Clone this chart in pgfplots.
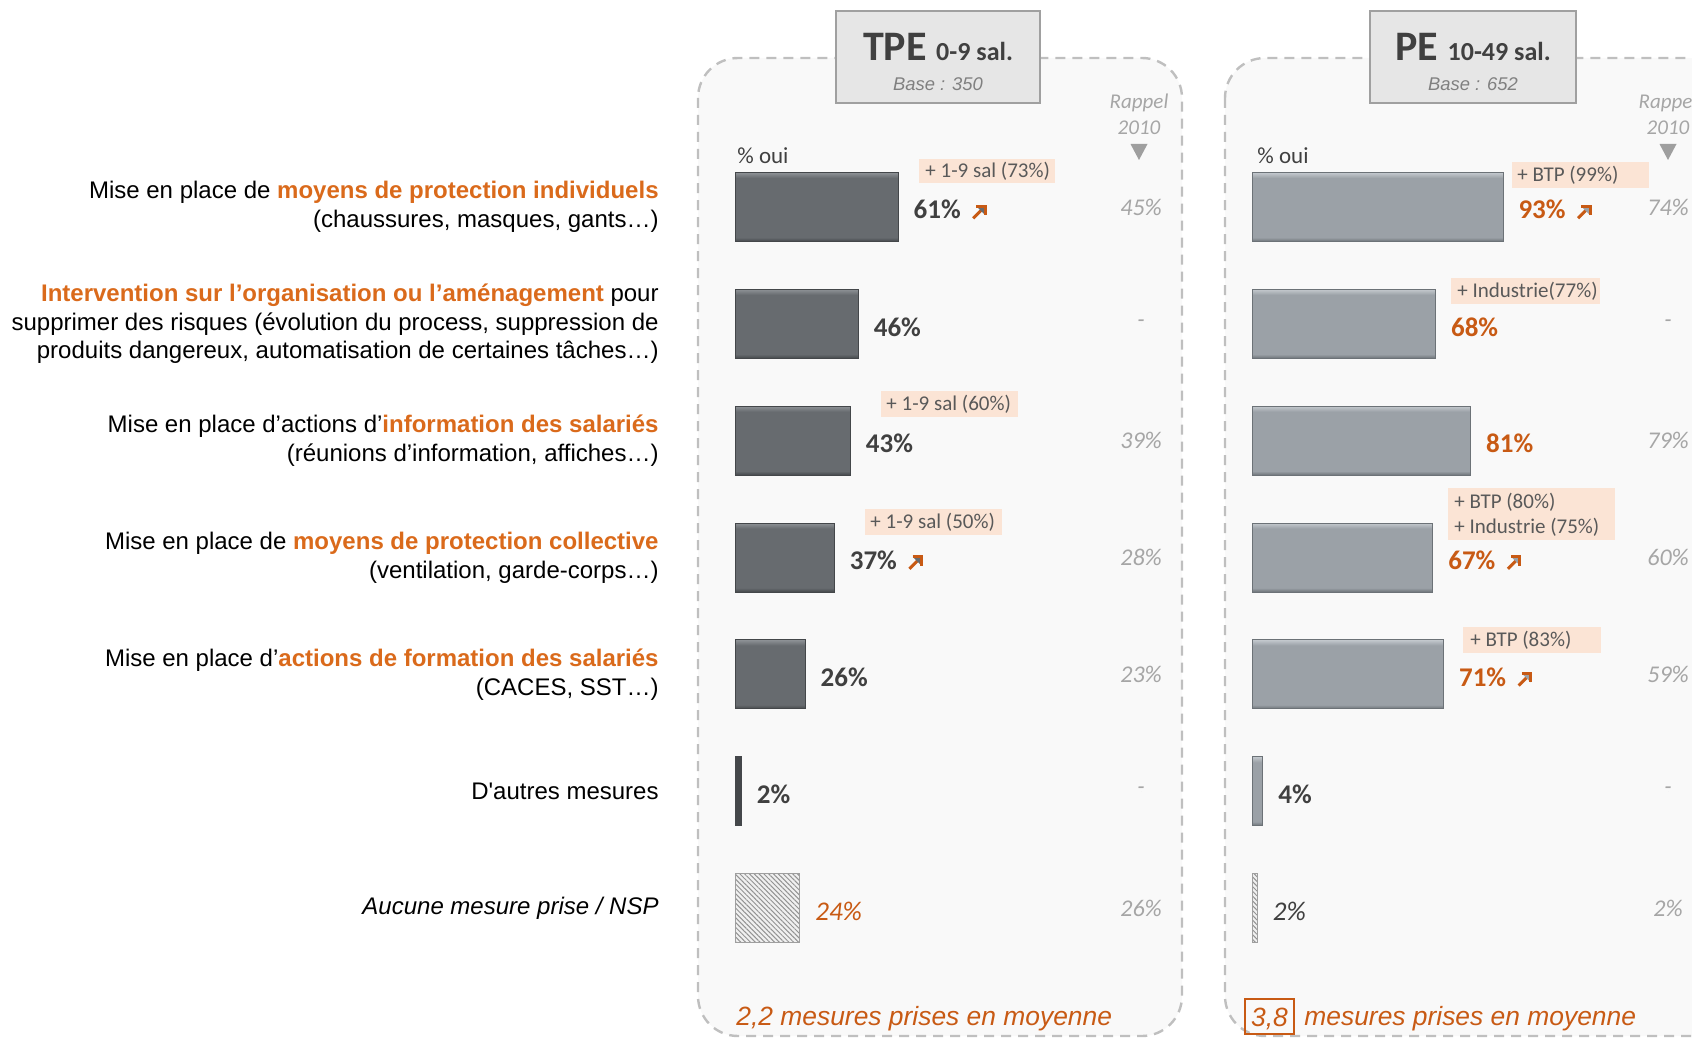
\documentclass[border=0pt]{standalone}
\usepackage{pgfplots}
\pgfplotsset{compat=1.18}
\usepackage{fontspec}
\setmainfont{Liberation Sans}
\newfontfamily\calib{Carlito}
\usetikzlibrary{patterns.meta}

\definecolor{lblorange}{HTML}{DA6A1B}
\definecolor{numorange}{HTML}{C85A14}
\definecolor{valdark}{HTML}{404040}
\definecolor{boxtext}{HTML}{595959}
\definecolor{hl}{HTML}{FBE4D5}
\definecolor{rappel}{HTML}{A6A6A6}
\definecolor{panelbg}{HTML}{F9F9F9}
\definecolor{panelline}{HTML}{BFBFBF}
\definecolor{titlefill}{HTML}{E6E6E6}
\definecolor{titleline}{HTML}{A0A0A0}
\definecolor{tpemain}{HTML}{676B6F}
\definecolor{tpelight}{HTML}{8E9296}
\definecolor{tpedark}{HTML}{44474A}
\definecolor{pemain}{HTML}{9BA1A7}
\definecolor{pelight}{HTML}{C4C9CE}
\definecolor{pedark}{HTML}{6C7277}

% bevel look of the bars (one bar per \addplot so that each gets its own shading)
\pgfdeclareverticalshading{bevtpe}{100bp}{color(0bp)=(tpedark); color(25bp)=(tpedark); color(28bp)=(tpemain); color(71bp)=(tpemain); color(75bp)=(tpelight); color(100bp)=(tpelight)}
\pgfdeclareverticalshading{bevpe}{100bp}{color(0bp)=(pedark); color(25bp)=(pedark); color(28bp)=(pemain); color(71bp)=(pemain); color(75bp)=(pelight); color(100bp)=(pelight)}

\newcommand{\fs}[2]{\fontsize{#1}{#2}\selectfont}
\newcommand{\uparr}{\tikz[baseline=0pt]{%
  \draw[numorange, line width=1.5pt] (0pt,0.3pt)--(6pt,6.3pt);
  \draw[numorange, line width=1.5pt, line join=miter] (1.6pt,6.3pt)--(6pt,6.3pt)--(6pt,1.9pt);}}

\pgfplotsset{
  panel/.style={scale only axis, anchor=north west, height=408.9pt,
    xmin=0, xmax=100, ymin=0.5, ymax=7.5, y dir=reverse,
    axis line style={draw=none}, major tick length=0pt, xtick=\empty,
    clip=false, /pgf/number format/assume math mode=true},
  bars/.style={xbar, bar width=34.5pt, bar shift=0pt, point meta=x},
  tpebar/.style={bars, shade, shading=bevtpe, shading angle=0, draw=tpedark, line width=0.5pt},
  pebar/.style={bars, shade, shading=bevpe, shading angle=0, draw=pedark, line width=0.5pt},
  hatchbar/.style={bars, fill=gray!12, draw=gray!75, line width=0.5pt,
    postaction={pattern={Lines[angle=-45,distance=1.7pt,line width=0.5pt]}, pattern color=gray!85}},
  vals/.style={nodes near coords={\pgfmathprintnumber{\pgfplotspointmeta}\%},
    nodes near coords style={anchor=west, inner sep=0pt, xshift=7.5pt, yshift=-1.5pt,
      text=valdark, font=\calib\bfseries\fs{13.5}{16}}},
  valsarr/.style={vals, nodes near coords={\pgfmathprintnumber{\pgfplotspointmeta}\%\hspace{5.5pt}\uparr}},
  orangeval/.style={nodes near coords style={text=numorange}},
  rappelcol/.style={only marks, mark=*, mark size=0pt, mark options={draw=none, fill=none},
    point meta=explicit symbolic, nodes near coords={\pgfplotspointmeta},
    nodes near coords style={anchor=center, inner sep=0pt, text=rappel, font=\calib\itshape\fs{12}{14}}},
}

\begin{document}
\begin{tikzpicture}
\begin{scope}[x=0.5pt, y=-0.5pt]
  \useasboundingbox (0,0) rectangle (1692,1038);
  \begin{scope}
    \clip (0,0) rectangle (1692,1038);
    \draw[panelline, line width=1.2pt, dash pattern=on 5pt off 3.5pt, fill=panelbg, rounded corners=20pt]
      (698,58) rectangle (1182,1036);
    \draw[panelline, line width=1.2pt, dash pattern=on 5pt off 3.5pt, fill=panelbg, rounded corners=20pt]
      (1225,58) rectangle (1730,1036);
  \end{scope}
  % titles
  \draw[fill=titlefill, draw=titleline, line width=0.7pt] (836,11) rectangle (1040,103);
  \draw[fill=titlefill, draw=titleline, line width=0.7pt] (1370,11) rectangle (1576,103);
  \node[anchor=base, text=valdark, font=\calib\bfseries, inner sep=0pt] at (938,61) {\fs{21}{24}TPE \fs{13}{15}0-9 sal.};
  \node[anchor=base, text=valdark, font=\calib\bfseries, inner sep=0pt] at (1473,61) {\fs{21}{24}PE \fs{13}{15}10-49 sal.};
  \node[anchor=base, text=gray, font=\itshape\fs{9.2}{11}, inner sep=0pt] at (938,91) {Base : 350};
  \node[anchor=base, text=gray, font=\itshape\fs{9.2}{11}, inner sep=0pt] at (1473,91) {Base : 652};
\end{scope}

% TPE 0-9 salariés
\begin{axis}[panel, at={(368pt,-74.3pt)}, width=133pt,
  ytick={1,...,7},
  yticklabels={
    {Mise en place de \textcolor{lblorange}{\textbf{moyens de protection individuels}}\\(chaussures, masques, gants…)},
    {\textcolor{lblorange}{\textbf{Intervention sur l’organisation ou l’aménagement}} pour\\supprimer des risques (évolution du process, suppression de\\produits dangereux, automatisation de certaines tâches…)},
    {Mise en place d’actions d’\textcolor{lblorange}{\textbf{information des salariés}}\\(réunions d’information, affiches…)},
    {Mise en place de \textcolor{lblorange}{\textbf{moyens de protection collective}}\\(ventilation, garde-corps…)},
    {Mise en place d’\textcolor{lblorange}{\textbf{actions de formation des salariés}}\\(CACES, SST…)},
    {D\textquotesingle autres mesures},
    {\textit{Aucune mesure prise / NSP}}},
  yticklabel style={align=right, inner sep=0pt, xshift=-38.5pt, font=\fs{12}{14.4}, text=black}]
  \addplot[tpebar, valsarr] coordinates {(61,1)};
  \addplot[tpebar, vals] coordinates {(46,2)};
  \addplot[tpebar, vals] coordinates {(43,3)};
  \addplot[tpebar, valsarr] coordinates {(37,4)};
  \addplot[tpebar, vals] coordinates {(26,5)};
  \addplot[bars, fill=tpedark, draw=tpedark, line width=0.5pt, vals] coordinates {(2,6)};
  \addplot[hatchbar, vals, nodes near coords style={text=numorange, font=\calib\itshape\fs{13.5}{16}}] coordinates {(24,7)};
  \addplot[rappelcol] coordinates {(152.3,1) [45\%] (152.3,2) [-] (152.3,3) [39\%] (152.3,4) [28\%]
    (152.3,5) [23\%] (152.3,6) [-] (152.3,7) [26\%]};
\end{axis}

% PE 10-49 salariés
\begin{axis}[panel, at={(626pt,-74.3pt)}, width=135pt, ytick=\empty]
  \addplot[pebar, valsarr, orangeval] coordinates {(93,1)};
  \addplot[pebar, vals, orangeval] coordinates {(68,2)};
  \addplot[pebar, vals, orangeval] coordinates {(81,3)};
  \addplot[pebar, valsarr, orangeval] coordinates {(67,4)};
  \addplot[pebar, valsarr, orangeval] coordinates {(71,5)};
  \addplot[pebar, vals] coordinates {(4,6)};
  \addplot[hatchbar, vals, nodes near coords style={font=\calib\itshape\fs{13.5}{16}}] coordinates {(2,7)};
  \addplot[rappelcol] coordinates {(154.1,1) [74\%] (154.1,2) [-] (154.1,3) [79\%] (154.1,4) [60\%]
    (154.1,5) [59\%] (154.1,6) [-] (154.1,7) [2\%]};
\end{axis}

\begin{scope}[x=0.5pt, y=-0.5pt]
  \begin{scope}
    \clip (0,0) rectangle (1692,1038);
    % rappel 2010 headers
    \foreach \cx in {1139,1668} {
      \node[anchor=base, text=rappel, font=\calib\itshape\fs{10.5}{12}, inner sep=0pt] at (\cx,109) {Rappel};
      \node[anchor=base, text=rappel, font=\calib\itshape\fs{10.5}{12}, inner sep=0pt] at (\cx,134) {2010};
      \fill[gray!75] (\cx-8.5,144) -- (\cx+8.5,144) -- (\cx,160) -- cycle;
    }
  \end{scope}
  \node[anchor=west, text=valdark, font=\calib\fs{11.5}{13}, inner sep=0pt] at (737,156) {\% oui};
  \node[anchor=west, text=valdark, font=\calib\fs{11.5}{13}, inner sep=0pt] at (1257,156) {\% oui};
  % sub-group highlights
  \tikzset{hltxt/.style={anchor=west, text=boxtext, font=\calib\fs{10.5}{12.5}, inner sep=0pt}}
  \fill[hl] (919,159) rectangle (1055,183);   \node[hltxt] at (925,171) {+ 1-9 sal (73\%)};
  \fill[hl] (881,391) rectangle (1018,417);   \node[hltxt] at (886,404) {+ 1-9 sal (60\%)};
  \fill[hl] (865,509) rectangle (1002,535);   \node[hltxt] at (870,522) {+ 1-9 sal (50\%)};
  \fill[hl] (1512,162) rectangle (1649,188);  \node[hltxt] at (1517,175) {+ BTP (99\%)};
  \fill[hl] (1451,278) rectangle (1600,304);  \node[hltxt] at (1457,291) {+ Industrie(77\%)};
  \fill[hl] (1448,488) rectangle (1615,540);  \node[hltxt] at (1454,502) {+ BTP (80\%)};
                                              \node[hltxt] at (1454,527) {+ Industrie (75\%)};
  \fill[hl] (1463,627) rectangle (1601,653);  \node[hltxt] at (1470,640) {+ BTP (83\%)};
  % footers
  \node[anchor=west, text=numorange, font=\itshape\fs{13.2}{15}, inner sep=0pt] at (736,1019) {2,2 mesures prises en moyenne};
  \draw[numorange, line width=1pt] (1245,999) rectangle (1294,1034);
  \node[text=numorange, font=\itshape\fs{13.2}{15}, inner sep=0pt] at (1269.5,1019) {3,8};
  \node[anchor=west, text=numorange, font=\itshape\fs{13.2}{15}, inner sep=0pt] at (1304,1019) {mesures prises en moyenne};
\end{scope}
\end{tikzpicture}
\end{document}
